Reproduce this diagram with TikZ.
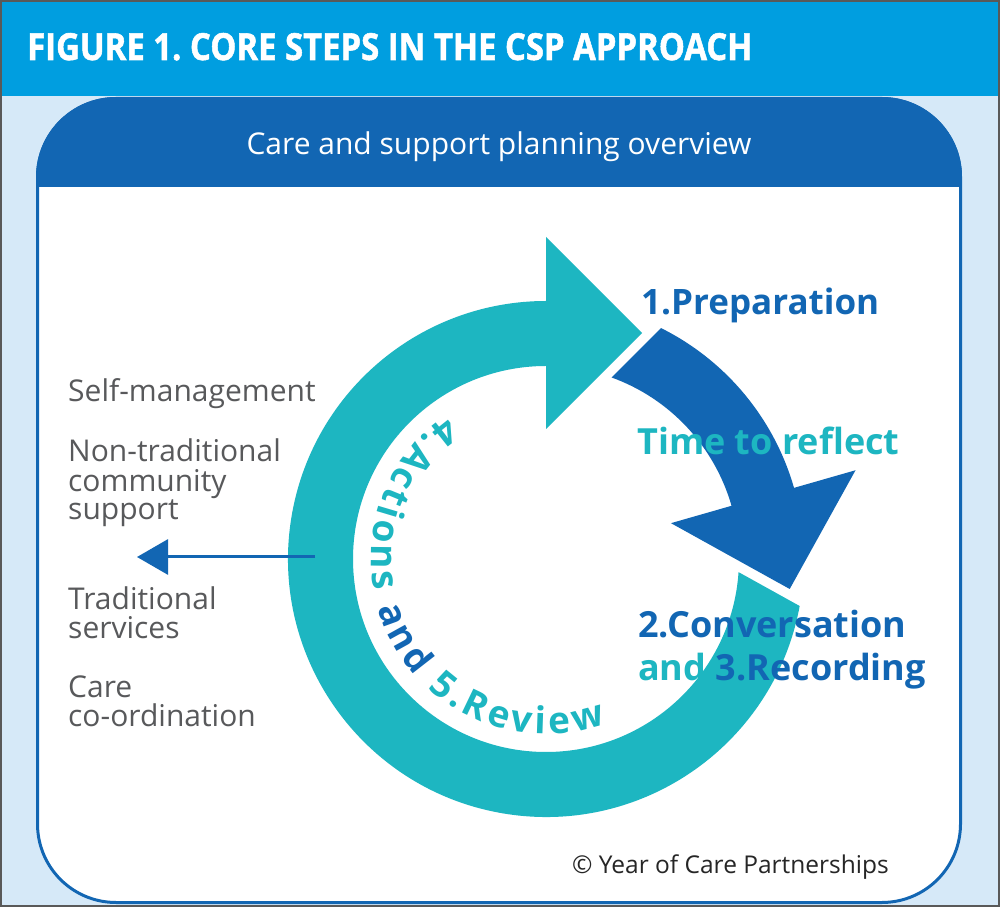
\documentclass[tikz,border=0pt]{standalone}
\usepackage{fontspec}
\setmainfont{Open Sans}
\usepackage{graphicx}
\usetikzlibrary{arrows.meta,calc,decorations.text}
\definecolor{hdrblue}{RGB}{0,158,224}
\definecolor{bgblue}{RGB}{214,233,248}
\definecolor{dkblue}{RGB}{18,102,179}
\definecolor{tealc}{RGB}{29,182,193}
\definecolor{txtgray}{RGB}{88,89,91}
\newcommand{\ringfont}{\bfseries\fontsize{37}{37}\selectfont}
\frenchspacing
\begin{document}
\begin{tikzpicture}[x=1pt,y=1pt,
  lefttext/.style={anchor=base west, inner sep=0pt, text=txtgray, font=\fontsize{30}{30}\selectfont},
  steptext/.style={anchor=base west, inner sep=0pt, font=\bfseries\fontsize{36}{36}\selectfont},
]
\useasboundingbox (0,0) rectangle (1000,907);
\fill[bgblue] (0,0) rectangle (1000,907);
\fill[hdrblue] (0,811) rectangle (1000,907);
% panel
\begin{scope}
\clip[rounded corners=80pt] (36,3) rectangle (962,810);
\fill[white] (36,3) rectangle (962,810);
\fill[dkblue] (36,720) rectangle (962,810);
\end{scope}
\draw[dkblue, line width=3pt, rounded corners=78.5pt] (37.5,4.5) rectangle (960.5,808.5);
% titles
\node[anchor=base west, inner sep=0pt, text=white] (title) at (27,847)
  {\resizebox{725pt}{27pt}{\bfseries\addfontfeatures{FakeBold=1.5}FIGURE 1.\ CORE STEPS IN THE CSP APPROACH}};
\node[anchor=base, inner sep=0pt, text=white, font=\fontsize{30}{30}\selectfont] (sub) at (499,752)
  {Care and support planning overview};
% cycle arrows
\coordinate (C) at (546,348);
\coordinate (ttip) at (642,574);
\coordinate (btip) at (789.7,318.0);
\fill[tealc] ($(C)+(-3.9:193pt)$) -- ($(C)+(-10.5:258pt)$)
  arc[start angle=-10.5, end angle=-270, radius=258pt]
  -- ($(C)+(90:322pt)$) -- (ttip) -- ($(C)+(90:130pt)$) -- ($(C)+(90:193pt)$)
  arc[start angle=90, end angle=356.1, radius=193pt] -- cycle;
\fill[dkblue] ($(C)+(63.5:258pt)$)
  arc[start angle=63.5, end angle=16, radius=258pt]
  -- ($(C)+(16:322pt)$) -- (btip) -- ($(C)+(16:130pt)$) -- ($(C)+(16:193pt)$)
  arc[start angle=16, end angle=70.1, radius=193pt] -- cycle;
% text along the ring
\path[decorate, decoration={text along path, text align=fit to path,
  text={|\ringfont\color{tealc}|4.Actions |\ringfont\color{dkblue}|and |\ringfont\color{tealc}|5.Review}}]
  ($(C)+(125:175pt)$) arc[start angle=125, end angle=290, radius=175pt];
% step labels
\node[steptext, text=dkblue, font=\bfseries\fontsize{35}{35}\selectfont] (prep) at (641,592) {1.Preparation};
\node[steptext, text=tealc] (reflect) at (637,452) {Time to reflect};
\node[steptext, text=dkblue] (conv) at (638,269) {2.Conversation};
\node[steptext] (rec) at (638,226) {\textcolor{tealc}{and} \textcolor{dkblue}{3.Recording}};
% left labels
\node[lefttext] (l1) at (68,505) {Self-management};
\node[lefttext] (l2) at (68,445) {Non-traditional};
\node[lefttext] (l3) at (68,415) {community};
\node[lefttext] (l4) at (68,387) {support};
\node[lefttext] (l5) at (68,297) {Traditional};
\node[lefttext] (l6) at (68,268) {services};
\node[lefttext] (l7) at (68,209) {Care};
\node[lefttext] (l8) at (68,180) {co-ordination};
% left arrow
\coordinate (arrS) at (315,350);
\coordinate (arrE) at (137,350);
\draw[dkblue, line width=3pt, -{Triangle[length=31pt,width=35pt]}] (arrS) -- (arrE);
% copyright
\node[anchor=base west, inner sep=0pt, font=\fontsize{24.5}{24.5}\selectfont, text=black!85] (copy) at (572,34)
  {© Year of Care Partnerships};
% frame
\draw[black!65, line width=2pt] (1,1) rectangle (999,906);
\end{tikzpicture}
\end{document}
